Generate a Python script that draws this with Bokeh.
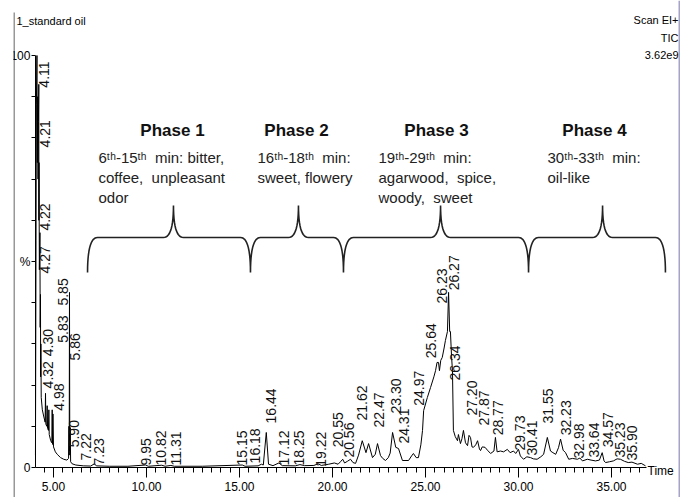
import numpy as np
from bokeh.plotting import figure
from bokeh.models import Range1d, FixedTicker, NumeralTickFormatter
from bokeh.core.properties import value
from bokeh.embed import file_html
from bokeh.resources import INLINE

# ---------------- data ----------------
rt = [4.03, 4.06, 4.08, 4.11, 4.13, 4.15, 4.17, 4.19, 4.21, 4.215, 4.22, 4.24, 4.27, 4.285, 4.30,
      4.31, 4.32, 4.34, 4.40, 4.47, 4.55, 4.57, 4.59, 4.64, 4.66, 4.68, 4.73, 4.75, 4.77, 4.85,
      4.91, 4.93, 4.95, 4.97, 5.00, 5.10, 5.20, 5.38, 5.55, 5.72, 5.81, 5.83, 5.845, 5.86, 5.875,
      5.90, 5.92, 6.0, 6.2, 6.6, 7.0, 7.2, 7.3, 8.0, 9.0, 9.95, 10.1, 10.82, 11.0, 11.31, 11.5,
      13.0, 15.15, 15.3, 16.0, 16.18, 16.28, 16.44, 16.56, 16.8, 17.12, 17.3, 18.0, 18.25, 18.5,
      19.0, 19.22, 19.4, 19.8, 20.1, 20.3, 20.43, 20.55, 20.65, 20.8, 20.97, 21.1, 21.24, 21.4,
      21.6, 21.8, 21.94, 22.15, 22.3, 22.42, 22.58, 22.7, 22.85, 23.0, 23.1, 23.23, 23.4, 23.55,
      23.76, 24.09, 24.25, 24.35, 24.5, 24.62, 24.75, 24.84, 24.9, 25.1, 25.27, 25.45, 25.54,
      25.62, 25.7, 25.75, 25.82, 25.9, 26.0, 26.07, 26.18, 26.24, 26.3, 26.34, 26.4, 26.45, 26.5,
      26.6, 26.72, 26.77, 26.88, 26.96, 27.04, 27.15, 27.26, 27.34, 27.42, 27.5, 27.58, 27.7,
      27.8, 27.9, 27.96, 28.05, 28.2, 28.33, 28.5, 28.68, 28.76, 28.85, 29.03, 29.2, 29.4, 29.55,
      29.73, 29.85, 30.0, 30.1, 30.27, 30.45, 30.65, 30.8, 31.0, 31.2, 31.35, 31.55, 31.72, 31.85,
      32.0, 32.15, 32.26, 32.4, 32.53, 32.7, 32.9, 33.17, 33.3, 33.44, 33.7, 33.9, 34.14, 34.35,
      34.5, 34.6, 34.68, 34.9, 35.1, 35.3, 35.48, 35.7, 35.9, 36.1, 36.4, 36.6, 36.83]
intensity = [3, 55, 88, 100, 74, 90, 70, 84, 93, 60, 74, 48, 57, 34, 42,
             22, 30, 17, 14, 12.5, 11, 18, 10.5, 10, 15, 9.5, 9, 14, 8, 6.5,
             6, 14, 5.6, 13, 5, 3.8, 3.2, 2.4, 2, 1.8, 2.2, 10, 3, 42.5, 4,
             9.7, 1.4, 0.9, 0.6, 0.4, 0.35, 0.9, 0.4, 0.3, 0.3, 0.6, 0.3, 0.55, 0.3, 0.5, 0.3,
             0.3, 0.6, 0.3, 0.4, 0.8, 0.6, 8.5, 0.8, 0.45, 1.1, 0.45, 0.4, 0.7, 0.45,
             0.5, 0.9, 0.5, 0.8, 1.1, 0.8, 1.4, 2.0, 1.1, 1.5, 2.0, 1.2, 1.0, 3.0,
             6.5, 3.6, 5.8, 2.4, 3.2, 5.8, 2.9, 2.2, 1.7, 2.4, 3.5, 8.5, 4.9, 4.6,
             1.7, 1.7, 2.8, 3.4, 2.4, 2.4, 5.5, 9, 13.8, 17, 19.4, 22, 23.5,
             25.5, 25.5, 23.5, 26, 26.7, 29, 30.8, 33, 42.5, 33, 33, 27, 23.5, 9,
             7.5, 6.5, 8, 5.8, 7, 9, 6, 5.3, 7.8, 7.3, 5, 4.9, 5.5,
             6.5, 4.5, 4.1, 5, 4.9, 4.2, 3.4, 4, 7.3, 3.8, 4.0, 3.8, 4.4, 3.6,
             4.0, 3.4, 4.4, 2.8, 2, 2.6, 2.4, 2.1, 2, 2.6, 3.2, 7.3, 4, 3.6,
             3.2, 4.8, 6.9, 4.2, 3.6, 2, 2.2, 2, 2.3, 1.6, 2, 1.8, 1.6, 1.8,
             3.6, 1.6, 1.2, 1.4, 1.6, 2.1, 2, 1.5, 1.2, 1.3, 0.8, 1.0, 0.4]

peak_labels = ["4.11", "4.21", "4.22", "4.27", "4.32", "4.30", "5.83", "5.85", "5.86", "4.98",
               "5.90", "7.22", "7.23", "9.95", "10.82", "11.31", "15.15", "16.18", "16.44",
               "17.12", "18.25", "19.22", "20.55", "20.56", "21.62", "22.47", "23.30", "24.31",
               "24.97", "25.64", "26.23", "26.27", "26.34", "27.20", "27.87", "28.77", "29.73",
               "30.41", "31.55", "32.23", "32.98", "33.64", "34.57", "35.23", "35.90"]
# where each peak label sits (minutes, % of the bottom of the text)
label_x = [4.49, 4.52, 4.52, 4.52, 4.68, 4.68, 5.51, 5.51, 6.13, 5.30,
           6.10, 6.75, 7.45, 9.97, 10.78, 11.56, 15.13, 15.86, 16.69,
           17.39, 18.20, 19.38, 20.32, 20.89, 21.59, 22.50, 23.39, 23.84,
           24.65, 25.32, 25.89, 26.53, 26.61, 27.50, 28.15, 28.92, 30.10,
           30.73, 31.59, 32.53, 33.25, 34.06, 34.81, 35.48, 36.10]
label_y = [92.2, 77.7, 57.5, 47.1, 19.2, 27.0, 30.3, 39.3, 26.0, 13.8,
           4.9, 1.7, 0.5, 0.5, 0.5, 0.5, 0.5, 1.0, 10.7,
           0.5, 0.5, 0.2, 4.9, 2.4, 11.4, 9.7, 13.1, 5.8,
           15.0, 26.5, 39.8, 43.0, 21.1, 12.6, 10.2, 7.8, 4.1,
           2.9, 10.7, 7.8, 2.2, 2.4, 4.9, 2.4, 1.7]

phase_titles = ["Phase 1", "Phase 2", "Phase 3", "Phase 4"]
phase_notes = [["6ᵗʰ-15ᵗʰ\u00a0 min: bitter,", "coffee,\u00a0 unpleasant", "odor"],
               ["16ᵗʰ-18ᵗʰ\u00a0 min:", "sweet, flowery"],
               ["19ᵗʰ-29ᵗʰ\u00a0 min:", "agarwood,\u00a0 spice,", "woody,\u00a0 sweet"],
               ["30ᵗʰ-33ᵗʰ\u00a0 min:", "oil-like"]]
phase_bounds = [6.83, 15.59, 20.59, 30.54, 37.9]
phase_centres = [11.45, 18.17, 25.81, 34.52]

x_major = [5, 10, 15, 20, 25, 30, 35]
y_major = [0, 10, 20, 30, 40, 50, 60, 70, 80, 90, 100]
y_tick_text = {0: "0", 50: "%", 100: "100"}

# ---------------- layout ----------------
FONT = "Liberation Sans"
W, H = 680, 497
PXM, PXI = 18.6, 4.12          # px per minute, px per %


def px2x(px):   # picture px -> minutes
    return 5 + (px - 53) / PXM


def py2y(py):   # picture px -> %
    return (467 - py) / PXI


LEFT = 13
X0, X1 = px2x(LEFT), px2x(W)
Y0, Y1 = py2y(H), py2y(0)

p = figure(width=W, height=H, x_range=Range1d(X0, X1), y_range=Range1d(Y0, Y1),
           output_backend="svg", toolbar_location=None,
           min_border_left=LEFT, min_border_right=0, min_border_top=0, min_border_bottom=0)
p.outline_line_color = None
p.grid.visible = False
p.background_fill_color = "white"

xa = p.xaxis[0]
xa.fixed_location = 0
xa.bounds = (4.03, 36.88)
xa.ticker = FixedTicker(ticks=x_major,
                        minor_ticks=[v / 2 for v in range(9, 74) if v % 10 != 0])
xa.formatter = NumeralTickFormatter(format="0.00")
xa.major_tick_in = 0
xa.major_tick_out = 10
xa.minor_tick_in = 0
xa.minor_tick_out = 5
xa.major_label_standoff = 4
xa.major_label_text_font = FONT
xa.major_label_text_font_size = "12px"
xa.major_label_text_color = "black"
xa.axis_line_color = "black"
xa.major_tick_line_color = "black"
xa.minor_tick_line_color = "black"

ya = p.yaxis[0]
ya.fixed_location = 4.03
ya.bounds = (0, 100)
ya.ticker = FixedTicker(ticks=y_major, minor_ticks=[])
ya.major_label_overrides = {t: y_tick_text.get(t, "") for t in y_major}
ya.major_tick_in = 0
ya.major_tick_out = 4
ya.minor_tick_out = 0
ya.major_label_standoff = 1
ya.major_label_text_font = FONT
ya.major_label_text_font_size = "12px"
ya.major_label_text_color = "black"
ya.axis_line_color = "black"

# frame lines of the original picture
p.segment(x0=[X0 + 0.5 / PXM], y0=[py2y(12)], x1=[X0 + 0.5 / PXM], y1=[Y0],
          line_color="#333333", line_width=1)
p.segment(x0=[X1 - 1 / PXM], y0=[Y1], x1=[X1 - 1 / PXM], y1=[Y0],
          line_color="#a4a4c8", line_width=2)

# chromatogram trace
p.line(rt, intensity, line_color="black", line_width=1)

# peak labels
p.text(x=label_x, y=label_y, text=peak_labels, angle=np.pi / 2,
       text_align="left", text_baseline="middle",
       text_font=value(FONT), text_font_size="14px", text_color="#111111")


# curly braces
def quad(a, c, b, n=14):
    s = np.linspace(0, 1, n)
    xs = (1 - s) ** 2 * a[0] + 2 * (1 - s) * s * c[0] + s ** 2 * b[0]
    ys = (1 - s) ** 2 * a[1] + 2 * (1 - s) * s * c[1] + s ** 2 * b[1]
    return list(xs), list(ys)


HB, TOP, LOW = py2y(237), py2y(205), py2y(272)
R = 10 / PXM
bx, by = [], []
for i in range(4):
    a, b, m = phase_bounds[i], phase_bounds[i + 1], phase_centres[i]
    for seg in (quad((a, LOW), (a, HB), (a + R, HB)),
                quad((m - R, HB), (m, HB), (m, TOP)),
                quad((m, TOP), (m, HB), (m + R, HB)),
                quad((b - R, HB), (b, HB), (b, LOW))):
        bx += seg[0]
        by += seg[1]
p.line(bx, by, line_color="#222222", line_width=1.6)

# phase texts
title_x = [px2x(v) for v in (172, 296, 436, 594)]
note_x = [px2x(v) for v in (98, 257, 378, 547)]
p.text(x=title_x, y=[py2y(130)] * 4, text=phase_titles, text_align="center",
       text_baseline="middle", text_font=value(FONT), text_font_style="bold",
       text_font_size="17px", text_color="#111111")
nx, ny, nt = [], [], []
for i, lines in enumerate(phase_notes):
    for j, t in enumerate(lines):
        nx.append(note_x[i])
        ny.append(py2y(157 + 20 * j))
        nt.append(t)
p.text(x=nx, y=ny, text=nt, text_align="left", text_baseline="middle",
       text_font=value(FONT), text_font_size="15px", text_color="#222222")

# header / corner texts
p.text(x=[px2x(16)], y=[py2y(20)], text=["1_standard oil"], text_align="left",
       text_baseline="middle", text_font=value(FONT), text_font_size="11px", text_color="black")
p.text(x=[px2x(678)] * 3, y=[py2y(19), py2y(37), py2y(54)], text=["Scan EI+", "TIC", "3.62e9"],
       text_align="right", text_baseline="middle", text_font=value(FONT),
       text_font_size="11px", text_color="black")
p.text(x=[px2x(647)], y=[py2y(470)], text=["Time"], text_align="left",
       text_baseline="middle", text_font=value(FONT), text_font_size="12px", text_color="black")

open("out.html", "w").write(file_html(p, INLINE))
